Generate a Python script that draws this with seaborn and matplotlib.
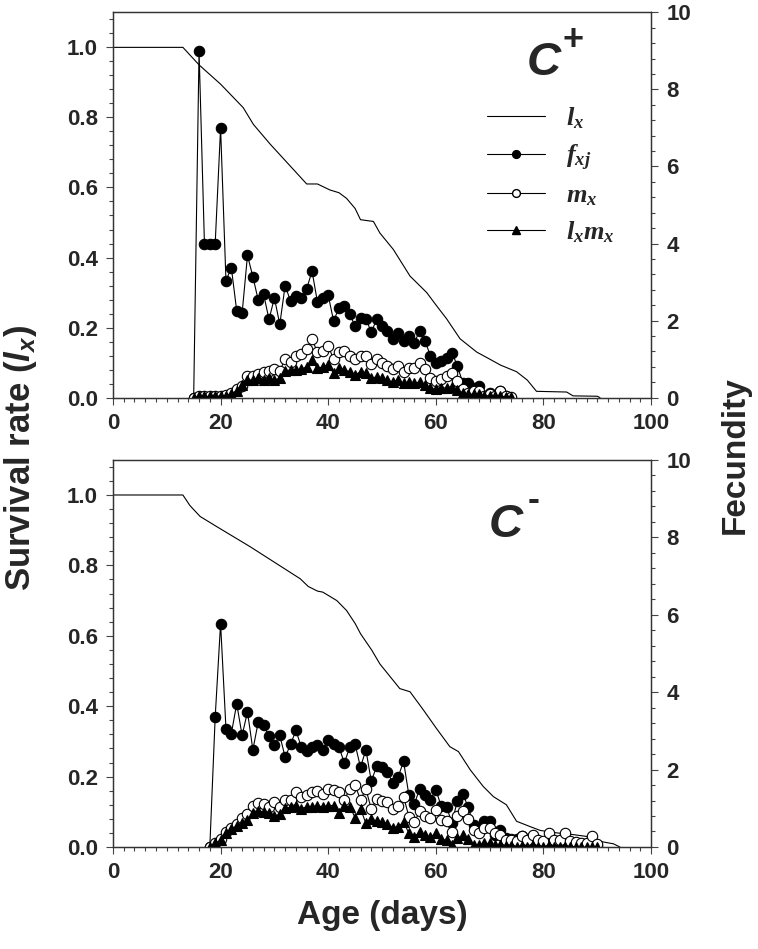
import numpy as np
import matplotlib.pyplot as plt
import seaborn as sns
from matplotlib.lines import Line2D
from matplotlib.ticker import MultipleLocator

sns.set_style("ticks")
plt.rcParams['font.family'] = ['Liberation Sans', 'DejaVu Sans']
plt.rcParams['font.weight'] = 'bold'
plt.rcParams['mathtext.fontset'] = 'custom'
plt.rcParams['mathtext.rm'] = 'Liberation Serif'
plt.rcParams['mathtext.it'] = 'Liberation Serif:italic'
plt.rcParams['mathtext.bf'] = 'Liberation Sans:italic:bold'

# C+ : survival curve (age, lx)
lx_age_top = [0, 13, 16, 20, 24.2, 26.1, 29.2, 32.3, 36, 38, 40.3, 42, 43.4, 45, 46, 48.4,
              49.6, 52.1, 55.2, 58.3, 60, 62, 64.5, 67.6, 70, 72, 75, 77, 78.7, 84.3, 85.5, 90, 90.5]
lx_top = [1.0, 1.0, 0.95, 0.895, 0.828, 0.78, 0.724, 0.672, 0.61, 0.61, 0.593, 0.585, 0.569, 0.54,
          0.508, 0.503, 0.47, 0.423, 0.347, 0.30, 0.265, 0.225, 0.168, 0.13, 0.11, 0.093, 0.074,
          0.05, 0.018, 0.016, 0.005, 0.004, 0.0]

# C+ : fecundity series, one value per day (15..74)
age_top = np.arange(15, 75)
fxj_top = [0.0, 9.0, 4.0, 4.0, 4.0, 7.0, 3.04, 3.37, 2.25, 2.19,
           3.69, 3.14, 2.53, 2.68, 2.03, 2.59, 1.90, 2.91, 2.50, 2.63,
           2.59, 2.83, 3.28, 2.48, 2.59, 2.66, 1.99, 2.33, 2.39, 2.16,
           1.86, 2.07, 2.05, 1.70, 2.03, 1.86, 1.73, 1.51, 1.67, 1.47,
           1.60, 1.43, 1.73, 1.47, 1.08, 0.91, 0.95, 1.04, 1.17, 0.82,
           0.39, 0.39, 0.26, 0.31, 0.05, 0.13, 0.05, 0.18, 0.05, 0.0]
mx_top = [0.0, 0.03, 0.03, 0.03, 0.04, 0.05, 0.06, 0.12, 0.22, 0.30,
          0.56, 0.56, 0.61, 0.66, 0.69, 0.74, 0.70, 1.00, 0.92, 1.07,
          1.12, 1.27, 1.51, 1.18, 1.20, 1.35, 0.99, 1.18, 1.20, 1.07,
          0.99, 1.09, 1.07, 0.86, 0.99, 0.91, 0.82, 0.74, 0.82, 0.67,
          0.78, 0.76, 0.90, 0.74, 0.52, 0.43, 0.49, 0.56, 0.65, 0.43,
          0.22, 0.13, 0.17, 0.17, 0.05, 0.09, 0.05, 0.17, 0.05, 0.02]
lxmx_top = [0.0, 0.03, 0.03, 0.03, 0.04, 0.04, 0.05, 0.10, 0.18, 0.33,
            0.47, 0.45, 0.52, 0.45, 0.50, 0.45, 0.50, 0.69, 0.72, 0.72,
            0.74, 0.80, 0.97, 0.76, 0.80, 0.85, 0.63, 0.76, 0.72, 0.67,
            0.59, 0.67, 0.63, 0.50, 0.54, 0.50, 0.45, 0.41, 0.45, 0.37,
            0.40, 0.37, 0.41, 0.32, 0.24, 0.22, 0.24, 0.26, 0.28, 0.19,
            0.13, 0.09, 0.09, 0.09, 0.05, 0.05, 0.03, 0.04, 0.02, 0.01]

# C- : survival curve
lx_age_bot = [0, 13, 14.3, 16.2, 19.3, 25.5, 34.8, 36.3, 38, 39, 41.6, 43.4, 45, 46, 48.1, 49.6,
              53.3, 55.2, 57.7, 60.1, 62.6, 64.2, 66.4, 68.8, 70.7, 73.1, 75, 77.5, 79.4, 82.5,
              85.6, 88, 90.5, 93, 94.2]
lx_bot = [1.0, 1.0, 0.97, 0.939, 0.91, 0.853, 0.762, 0.74, 0.727, 0.724, 0.70, 0.672, 0.635, 0.606,
          0.559, 0.52, 0.45, 0.441, 0.389, 0.337, 0.285, 0.271, 0.219, 0.172, 0.143, 0.12, 0.073,
          0.058, 0.047, 0.04, 0.035, 0.03, 0.016, 0.009, 0.0]

# C- : fecundity series, one value per day (18..90)
age_bot = np.arange(18, 91)
fxj_bot = [0.0, 3.36, 5.77, 3.06, 2.93, 3.70, 2.88, 3.49, 2.51, 3.23,
           3.14, 2.86, 2.63, 2.88, 2.32, 2.65, 3.01, 2.58, 2.48, 2.58,
           2.63, 2.50, 2.76, 2.67, 2.58, 2.17, 2.58, 2.65, 2.06, 2.51,
           1.70, 2.08, 2.06, 1.94, 1.65, 1.81, 2.21, 1.33, 1.10, 1.51,
           1.33, 1.22, 1.48, 1.05, 1.03, 0.62, 1.20, 1.38, 1.03, 0.58,
           0.40, 0.67, 0.67, 0.30, 0.45, 0.22, 0.20, 0.20, 0.28, 0.15,
           0.15, 0.08, 0.10, 0.18, 0.08, 0.05, 0.15, 0.05, 0.05, 0.05,
           0.03, 0.10, 0.03]
mx_bot = [0.0, 0.10, 0.20, 0.38, 0.50, 0.60, 0.74, 0.84, 1.05, 1.13,
          1.12, 1.02, 1.16, 1.03, 1.21, 1.22, 1.42, 1.29, 1.33, 1.42,
          1.44, 1.38, 1.50, 1.48, 1.42, 1.22, 1.50, 1.59, 1.22, 1.50,
          0.98, 1.24, 1.20, 1.16, 0.98, 1.07, 1.30, 0.78, 0.64, 0.93,
          0.81, 0.76, 0.95, 0.69, 0.67, 0.39, 0.80, 0.92, 0.71, 0.43,
          0.35, 0.48, 0.48, 0.35, 0.30, 0.17, 0.19, 0.16, 0.28, 0.19,
          0.32, 0.17, 0.16, 0.35, 0.17, 0.17, 0.35, 0.16, 0.13, 0.10,
          0.10, 0.28, 0.07]
lxmx_bot = [0.0, 0.09, 0.18, 0.36, 0.47, 0.54, 0.63, 0.70, 0.88, 0.93,
            0.91, 0.89, 0.80, 0.84, 1.00, 1.02, 1.06, 0.99, 1.04, 1.04,
            1.06, 1.04, 1.07, 1.07, 0.89, 1.06, 1.04, 0.76, 0.99, 0.61,
            0.72, 0.67, 0.65, 0.60, 0.50, 0.52, 0.65, 0.35, 0.26, 0.39,
            0.30, 0.26, 0.35, 0.20, 0.17, 0.06, 0.22, 0.30, 0.20, 0.06,
            0.04, 0.09, 0.09, 0.05, 0.04, 0.02, 0.02, 0.01, 0.02, 0.01,
            0.02, 0.01, 0.01, 0.02, 0.01, 0.01, 0.01, 0.01, 0.0, 0.0,
            0.0, 0.01, 0.0]

TICK_FS = 16
LABEL_FS = 24


def style_axes(ax, ax2):
    ax.set_xlim(0, 100)
    ax.set_ylim(0, 1.1)
    ax2.set_ylim(0, 10)
    ax.xaxis.set_major_locator(MultipleLocator(20))
    ax.xaxis.set_minor_locator(MultipleLocator(2))
    ax.yaxis.set_minor_locator(MultipleLocator(0.04))
    ax2.yaxis.set_major_locator(MultipleLocator(2))
    ax2.yaxis.set_minor_locator(MultipleLocator(0.4))
    ax.set_yticks([0, 0.2, 0.4, 0.6, 0.8, 1.0])
    ax.set_yticklabels(['0.0', '0.2', '0.4', '0.6', '0.8', '1.0'])
    for a in (ax, ax2):
        a.tick_params(which='major', length=5, width=0.8, color='#444444',
                      labelsize=TICK_FS, pad=6)
        a.tick_params(which='minor', length=3, width=0.8, color='#444444')
        for s in a.spines.values():
            s.set_visible(True)
            s.set_linewidth(0.9)
            s.set_color('#333333')
        for t in a.get_xticklabels() + a.get_yticklabels():
            t.set_fontweight('bold')
    ax.set_xlabel('')
    ax.set_ylabel('')
    ax2.set_ylabel('')


def draw_panel(ax, lx_age, lx, age, fxj, mx, lxmx):
    ax2 = ax.twinx()
    sns.lineplot(x=lx_age, y=lx, ax=ax, color='black', linewidth=0.8, estimator=None)
    sns.lineplot(x=age, y=fxj, ax=ax2, color='black', linewidth=0.8, estimator=None,
                 marker='o', markersize=7.5, markerfacecolor='black',
                 markeredgecolor='black', markeredgewidth=0.8)
    sns.lineplot(x=age, y=mx, ax=ax2, color='black', linewidth=0.8, estimator=None,
                 marker='o', markersize=7.5, markerfacecolor='white',
                 markeredgecolor='black', markeredgewidth=0.8)
    sns.lineplot(x=age, y=lxmx, ax=ax2, color='black', linewidth=0.8, estimator=None,
                 marker='^', markersize=7, markerfacecolor='black',
                 markeredgecolor='black', markeredgewidth=0.8)
    style_axes(ax, ax2)
    return ax2


fig = plt.figure(figsize=(7.58, 9.49), dpi=100)
ax_top = fig.add_axes([0.149, 0.581, 0.71, 0.406])
ax_bot = fig.add_axes([0.149, 0.1075, 0.71, 0.408])

ax2_top = draw_panel(ax_top, lx_age_top, lx_top, age_top, fxj_top, mx_top, lxmx_top)
ax2_bot = draw_panel(ax_bot, lx_age_bot, lx_bot, age_bot, fxj_bot, mx_bot, lxmx_bot)

# treatment labels
ax_top.text(80, 0.955, 'C', fontsize=34, fontweight='bold', style='italic',
            ha='center', va='center')
ax_top.text(85.5, 1.02, '+', fontsize=26, fontweight='bold', ha='center', va='center')
ax_bot.text(73, 0.915, 'C', fontsize=34, fontweight='bold', style='italic',
            ha='center', va='center')
ax_bot.text(78.2, 0.985, '-', fontsize=26, fontweight='bold', ha='center', va='center')

# legend (top panel only)
handles = [
    Line2D([], [], color='black', lw=0.8),
    Line2D([], [], color='black', lw=0.8, marker='o', ms=7.5, mfc='black', mec='black'),
    Line2D([], [], color='black', lw=0.8, marker='o', ms=7.5, mfc='white', mec='black'),
    Line2D([], [], color='black', lw=0.8, marker='^', ms=7, mfc='black', mec='black'),
]
labels = [r'$l_x$', r'$f_{xj}$', r'$m_x$', r'$l_xm_x$']
ax2_top.legend(handles, labels, loc='upper left', bbox_to_anchor=(0.675, 0.785),
               frameon=False, fontsize=19, handlelength=2.2, markerscale=0.75,
               labelspacing=0.42, handletextpad=0.8, borderaxespad=0)

ax_bot.set_xlabel('Age (days)', fontsize=LABEL_FS, fontweight='bold', labelpad=12)
fig.text(0.027, 0.517, r'Survival rate ($\mathbf{l}_\mathbf{x}$)', rotation=90,
         fontsize=25, fontweight='bold', ha='center', va='center')
fig.text(0.97, 0.52, 'Fecundity', rotation=90, fontsize=LABEL_FS, fontweight='bold',
         ha='center', va='center')

fig.savefig('out.png', dpi=100)
